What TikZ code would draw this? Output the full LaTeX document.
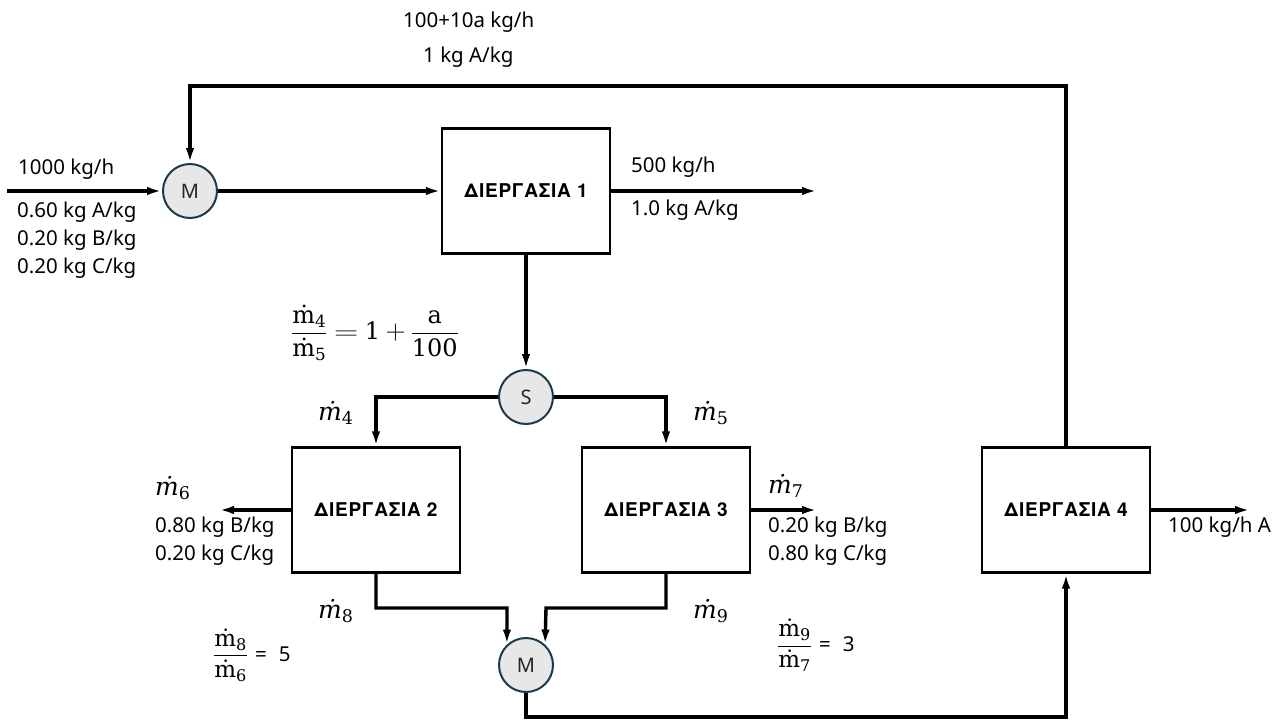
\RequirePackage{fix-cm}
\documentclass[tikz,border=0pt]{standalone}
\usepackage{amsmath}
\usepackage{graphicx}
\usepackage[no-math]{fontspec}
\setmainfont{Noto Sans}
\newfontfamily\boxfont{TeX Gyre Heros}[LetterSpace=4]
\newfontfamily\serif{DejaVu Serif}
\newcommand\mflow[1]{\text{\serif\itshape ṁ}_{\text{\serif #1}}}
\newcommand\mup[1]{\text{\serif ṁ}_{\text{\serif #1}}}
\newcommand\sv[1]{\text{\serif #1}}
\newcommand\ratio[3]{$\displaystyle\frac{\mup{#1}}{\mup{#2}}$\hspace{7pt}{\fontsize{20.5}{24}\selectfont =\hspace{12pt}#3}}
\usetikzlibrary{arrows.meta,calc}
\definecolor{circEdge}{HTML}{1B3A4B}
\definecolor{circFill}{HTML}{E7E7E7}
\begin{document}
\begin{tikzpicture}[x=1pt,y=-1pt,
  flow/.style={line width=3.4pt, -{Latex[length=15pt,width=8.5pt]}},
  procbox/.style={draw, line width=2.2pt, minimum width=168pt, minimum height=125pt, inner sep=0pt, font=\boxfont\bfseries\fontsize{19}{22}\selectfont},
  unit/.style={circle, draw=circEdge, fill=circFill, line width=2pt, minimum size=54pt, inner sep=0pt, font=\fontsize{20}{24}\selectfont, text=black!85},
  lbl/.style={anchor=west, inner sep=0pt, font=\fontsize{20.5}{24}\selectfont},
  mlbl/.style={anchor=west, inner sep=0pt, font=\fontsize{25}{28}\selectfont},
  eqlbl/.style={anchor=west, inner sep=0pt, font=\fontsize{23}{26}\selectfont},
]
\useasboundingbox (0,0) rectangle (1285,720);

% units
\node[unit] (M1) at (190,191) {M};
\node[procbox] (D1) at (526,191) {ΔΙΕΡΓΑΣΙΑ 1};
\node[unit] (S) at (526,397) {S};
\node[procbox] (D2) at (376,510) {ΔΙΕΡΓΑΣΙΑ 2};
\node[procbox] (D3) at (666,510) {ΔΙΕΡΓΑΣΙΑ 3};
\node[procbox] (D4) at (1066,510) {ΔΙΕΡΓΑΣΙΑ 4};
\node[unit] (M2) at (526,665) {M};

% free ends and bends
\coordinate (feed) at (7,191);
\coordinate (out1) at (817,191);
\coordinate (out6) at (219,510);
\coordinate (out7) at (817,510);
\coordinate (outA) at (1250,510);
\coordinate (rtop) at (1066,86);
\coordinate (jL) at (507,608);
\coordinate (jR) at (546,608);
\coordinate (bot) at (526,717);

% connectors
\draw[flow] (feed) -- (M1.west);
\draw[flow] (M1.east) -- (D1.west);
\draw[flow] (D1.east) -- (out1);
\draw[flow] (D1.south) -- (S.north);
\draw[flow] (S.west) -| (D2.north);
\draw[flow] (S.east) -| (D3.north);
\draw[flow] (D2.south) |- (jL) -- (M2.133);
\draw[flow] (D3.south) |- (jR) -- (M2.47);
\draw[flow] (M2.south) -- (bot) -| (D4.south);
\draw[flow] (D4.north) -- (rtop) -| (M1.north);
\draw[flow] (D2.west) -- (out6);
\draw[flow] (D3.east) -- (out7);
\draw[flow] (D4.east) -- (outA);

% labels
\node[lbl] (t1) at (403,22) {100+10a kg/h};
\node[lbl] (t2) at (423,57) {1 kg A/kg};
\node[lbl] (f1) at (18,169) {1000 kg/h};
\node[lbl] (f2) at (17,212) {0.60 kg A/kg};
\node[lbl] (f3) at (17,240) {0.20 kg B/kg};
\node[lbl] (f4) at (17,268) {0.20 kg C/kg};
\node[lbl] (p1) at (631,167) {500 kg/h};
\node[lbl] (p2) at (631,210) {1.0 kg A/kg};
\node[eqlbl, anchor=center, font=\fontsize{24}{27}\selectfont] (eq1) at (375,333) {$\displaystyle\frac{\mup{4}}{\mup{5}}\mathrel{\scalebox{1.4}[1]{$=$}}\sv{1}\mathbin{\scalebox{1.15}{$+$}}\frac{\sv{a}}{\sv{100}}$};
\node[mlbl] (m4) at (318,413) {$\mflow{4}$};
\node[mlbl] (m5) at (693,413) {$\mflow{5}$};
\node[mlbl] (m6) at (155,488) {$\mflow{6}$};
\node[lbl] (s6a) at (155,527) {0.80 kg B/kg};
\node[lbl] (s6b) at (155,555) {0.20 kg C/kg};
\node[mlbl] (m7) at (768,486) {$\mflow{7}$};
\node[lbl] (s7a) at (768,527) {0.20 kg B/kg};
\node[lbl] (s7b) at (768,555) {0.80 kg C/kg};
\node[mlbl] (m8) at (318,611) {$\mflow{8}$};
\node[mlbl] (m9) at (693,611) {$\mflow{9}$};
\node[eqlbl] (eq2) at (213,655) {\ratio{8}{6}{5}};
\node[eqlbl] (eq3) at (777,645) {\ratio{9}{7}{3}};
\node[lbl] (pA) at (1168,527) {100 kg/h A};
\end{tikzpicture}
\end{document}
